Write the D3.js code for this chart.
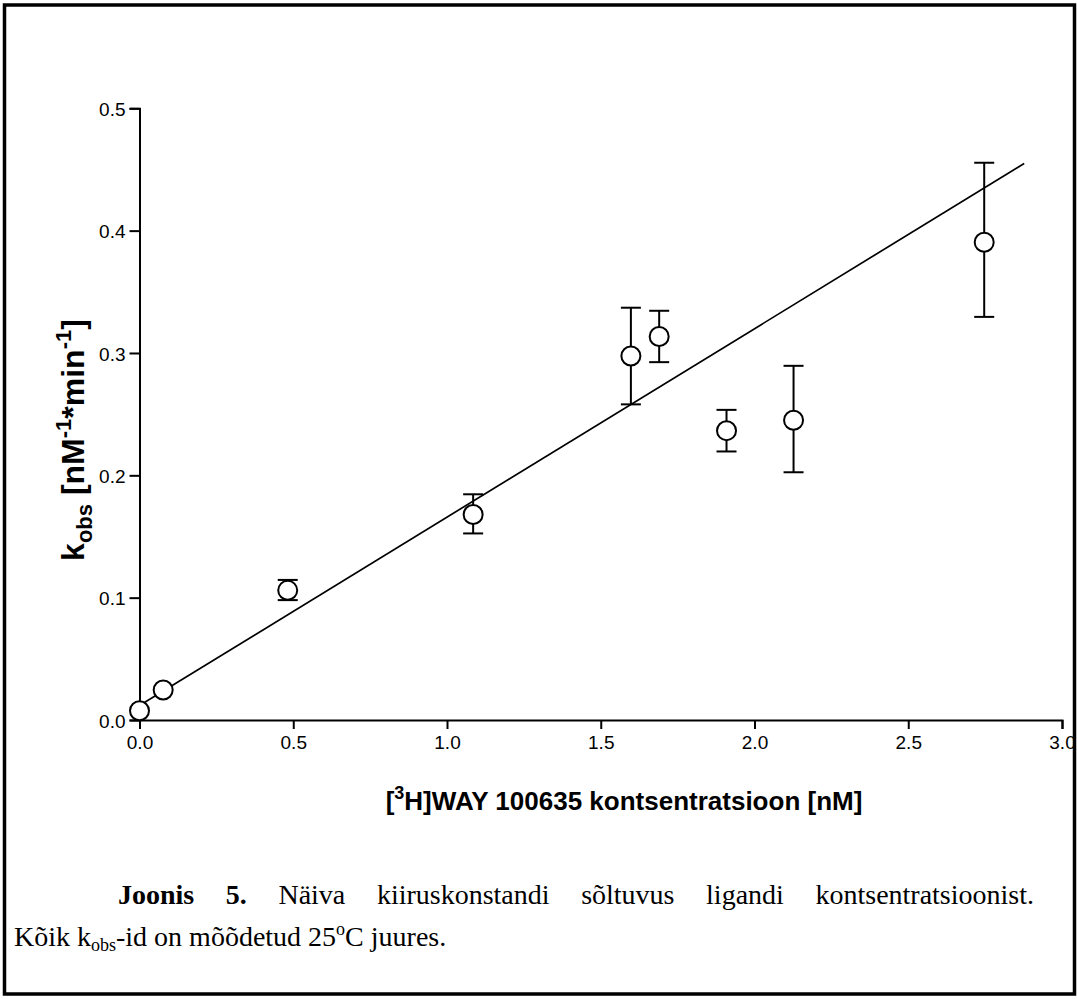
<!DOCTYPE html>
<html>
<head>
<meta charset="utf-8">
<script src="https://cdn.jsdelivr.net/npm/d3@7"></script>
<style>
  html, body { margin: 0; padding: 0; background: #fff; }
  svg { display: block; }
</style>
</head>
<body>
<svg id="chart" width="1077" height="999"></svg>
<script>
// Ligand concentration (nM) and observed rate constants k_obs (nM^-1*min^-1)
const concentration = [0.0, 0.077, 0.482, 1.085, 1.598, 1.690, 1.909, 2.127, 2.747];
const kObs          = [0.0076, 0.0245, 0.106, 0.168, 0.2975, 0.3135, 0.2365, 0.2450, 0.3905];
const kObsLow       = [null, null, 0.098, 0.1525, 0.258, 0.2925, 0.2195, 0.2025, 0.3295];
const kObsHigh      = [null, null, 0.1145, 0.1845, 0.337, 0.3345, 0.2535, 0.2895, 0.4555];

// Linear fit drawn across the measured range
const fitX = [0.0, 2.877];
const fitY = [0.0118, 0.4549];

const xTicks = [0.0, 0.5, 1.0, 1.5, 2.0, 2.5, 3.0];
const yTicks = [0.0, 0.1, 0.2, 0.3, 0.4, 0.5];

const svg = d3.select("#chart");

const x = d3.scaleLinear().domain([0, 3]).range([139.5, 1062]);
const y = d3.scaleLinear().domain([0, 0.5]).range([720, 108.3]);

const axisFont = "'Liberation Sans', Arial, sans-serif";
const serif = "'Liberation Serif', 'Times New Roman', serif";

// x axis
const gx = svg.append("g")
  .attr("transform", `translate(0,${y(0)})`)
  .call(d3.axisBottom(x).tickValues(xTicks).tickFormat(d3.format(".1f")).tickSize(9).tickPadding(7));
// y axis
const gy = svg.append("g")
  .attr("transform", `translate(${x(0)},0)`)
  .call(d3.axisLeft(y).tickValues(yTicks).tickFormat(d3.format(".1f")).tickSize(10).tickPadding(4));

[gx, gy].forEach(g => {
  g.select(".domain").attr("stroke", "#000").attr("stroke-width", 2);
  g.selectAll(".tick line").attr("stroke", "#000").attr("stroke-width", 2);
  g.selectAll(".tick text")
    .attr("fill", "#000")
    .style("font-family", axisFont)
    .style("font-size", "19px");
});
gy.selectAll(".tick text").attr("dy", "0.38em");

// fitted line
svg.append("path")
  .datum(fitX.map((v, i) => [v, fitY[i]]))
  .attr("d", d3.line().x(d => x(d[0])).y(d => y(d[1])))
  .attr("fill", "none").attr("stroke", "#000").attr("stroke-width", 1.7);

const points = concentration.map((c, i) => ({ c, k: kObs[i], lo: kObsLow[i], hi: kObsHigh[i] }));
const withErr = points.filter(d => d.lo !== null);

// error bars
const eb = svg.append("g").attr("stroke", "#000").attr("stroke-width", 2);
eb.selectAll(".stem").data(withErr).join("line")
  .attr("x1", d => x(d.c)).attr("x2", d => x(d.c))
  .attr("y1", d => y(d.lo)).attr("y2", d => y(d.hi));
eb.selectAll(".capHi").data(withErr).join("line")
  .attr("x1", d => x(d.c) - 10).attr("x2", d => x(d.c) + 10)
  .attr("y1", d => y(d.hi)).attr("y2", d => y(d.hi));
eb.selectAll(".capLo").data(withErr).join("line")
  .attr("x1", d => x(d.c) - 10).attr("x2", d => x(d.c) + 10)
  .attr("y1", d => y(d.lo)).attr("y2", d => y(d.lo));

// markers
svg.append("g").selectAll("circle").data(points).join("circle")
  .attr("cx", d => x(d.c)).attr("cy", d => y(d.k)).attr("r", 9.5)
  .attr("fill", "#fff").attr("stroke", "#000").attr("stroke-width", 2);

// axis titles
const yTitle = svg.append("text")
  .attr("transform", "translate(84,440) rotate(-90)")
  .attr("text-anchor", "middle")
  .style("font-family", axisFont).style("font-size", "32px").style("font-weight", "bold");
yTitle.append("tspan").text("k");
yTitle.append("tspan").attr("dy", 8).style("font-size", "22px").text("obs");
yTitle.append("tspan").attr("dy", -8).text(" [nM");
yTitle.append("tspan").attr("dy", -13).style("font-size", "22px").text("-1");
yTitle.append("tspan").attr("dy", 13).text("*min");
yTitle.append("tspan").attr("dy", -13).style("font-size", "22px").text("-1");
yTitle.append("tspan").attr("dy", 13).text("]");

const xTitle = svg.append("text")
  .attr("x", 624).attr("y", 810)
  .attr("text-anchor", "middle")
  .style("font-family", axisFont).style("font-size", "26px").style("font-weight", "bold");
xTitle.append("tspan").text("[");
xTitle.append("tspan").attr("dy", -11).style("font-size", "18px").text("3");
xTitle.append("tspan").attr("dy", 11).text("H]WAY 100635 kontsentratsioon [nM]");

// outer frame
svg.append("rect")
  .attr("x", 4.5).attr("y", 5).attr("width", 1070).attr("height", 989)
  .attr("fill", "none").attr("stroke", "#000").attr("stroke-width", 3.5);

// caption, first line justified between two margins
const capSize = 28;
const line1 = [
  { t: "Joonis", b: true }, { t: "5.", b: true }, { t: "Näiva" }, { t: "kiiruskonstandi" },
  { t: "sõltuvus" }, { t: "ligandi" }, { t: "kontsentratsioonist." }
];
const left1 = 118, right1 = 1034, base1 = 904;
const words = line1.map(w => svg.append("text")
  .attr("y", base1)
  .style("font-family", serif).style("font-size", capSize + "px")
  .style("font-weight", w.b ? "bold" : "normal")
  .text(w.t));
const widths = words.map(t => t.node().getComputedTextLength());
const gap = (right1 - left1 - d3.sum(widths)) / (words.length - 1);
let cx = left1;
words.forEach((t, i) => { t.attr("x", cx); cx += widths[i] + gap; });

const line2 = svg.append("text")
  .attr("x", 14).attr("y", 946)
  .style("font-family", serif).style("font-size", capSize + "px");
line2.append("tspan").text("Kõik k");
line2.append("tspan").attr("dy", 5).style("font-size", "18px").text("obs");
line2.append("tspan").attr("dy", -5).text("-id on mõõdetud 25");
line2.append("tspan").attr("dy", -11).style("font-size", "18px").text("o");
line2.append("tspan").attr("dy", 11).text("C juures.");
</script>
</body>
</html>
